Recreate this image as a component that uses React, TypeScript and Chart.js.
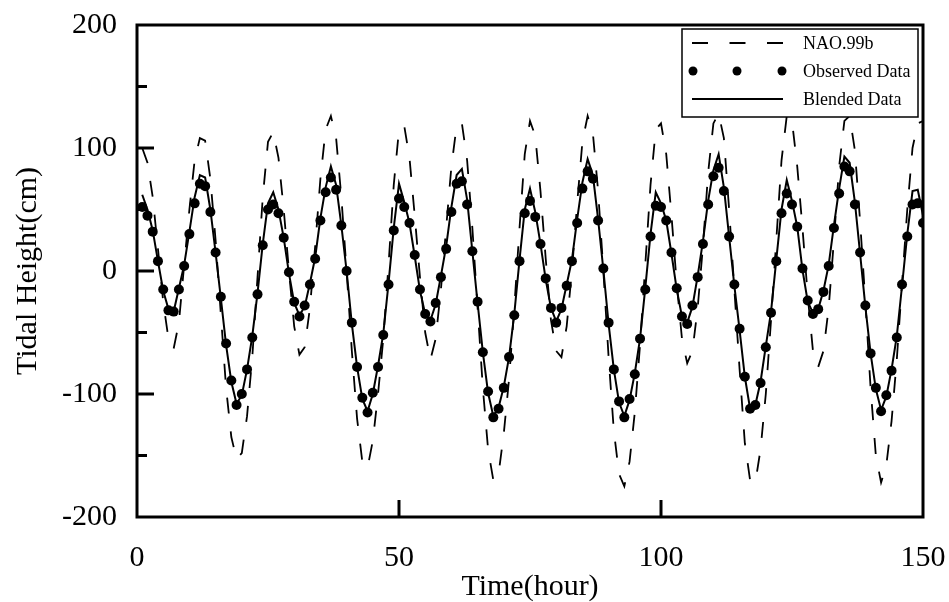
import React, { useEffect, useRef } from "react";
import { Chart, registerables } from "chart.js";

Chart.register(...registerables);

const HOURS: number[] = Array.from({ length: 150 }, (_, i) => i + 1);

const NAO_99B: number[] = [
  100, 88, 60, 18, -25, -55, -63, -42, 5, 50,
  90, 108, 106, 75, 25, -35, -95, -135, -153, -148,
  -118, -70, -5, 60, 105, 113, 92, 50, 0, -45,
  -68, -62, -30, 20, 75, 115, 126, 108, 60, 0,
  -65, -120, -155, -160, -138, -100, -55, 5, 70, 115,
  118, 92, 45, -5, -50, -72, -55, -15, 35, 85,
  118, 120, 90, 35, -30, -95, -145, -170, -165, -132,
  -88, -30, 35, 95, 122, 110, 65, 10, -40, -65,
  -70, -45, 0, 55, 105, 126, 112, 65, 0, -70,
  -130, -165, -175, -155, -115, -60, 5, 70, 115, 120,
  95, 45, -10, -55, -75, -65, -30, 20, 80, 120,
  128, 108, 50, -15, -80, -140, -170, -172, -145, -100,
  -40, 25, 90, 126, 122, 85, 35, -20, -65, -78,
  -65, -30, 25, 85, 122, 126, 98, 40, -25, -95,
  -150, -172, -158, -122, -72, -10, 50, 100, 120, 122,
];

const OBSERVED: number[] = [
  52, 45, 32, 8, -15, -32, -33, -15, 4, 30,
  55, 71, 69, 48, 15, -21, -59, -89, -109, -100,
  -80, -54, -19, 21, 50, 54, 47, 27, -1, -25,
  -37, -28, -11, 10, 41, 64, 76, 66, 37, 0,
  -42, -78, -103, -115, -99, -78, -52, -11, 33, 59,
  52, 39, 13, -15, -35, -41, -26, -5, 18, 48,
  71, 73, 54, 16, -25, -66, -98, -119, -112, -95,
  -70, -36, 8, 47, 57, 44, 22, -6, -30, -42,
  -30, -12, 8, 39, 67, 81, 75, 41, 2, -42,
  -80, -106, -119, -104, -84, -55, -15, 28, 53, 52,
  41, 15, -14, -37, -43, -28, -5, 22, 54, 77,
  84, 65, 28, -11, -47, -86, -112, -109, -91, -62,
  -34, 8, 47, 63, 54, 36, 2, -24, -35, -31,
  -17, 4, 35, 63, 85, 81, 54, 15, -28, -67,
  -95, -114, -101, -81, -54, -11, 28, 54, 55, 39,
];

const BLENDED: number[] = [
  62, 50, 33, 8, -16, -31, -33, -14, 5, 32,
  60, 78, 76, 50, 15, -22, -60, -90, -108, -101,
  -80, -53, -18, 22, 55, 64, 50, 27, -2, -26,
  -36, -29, -10, 11, 43, 68, 85, 70, 37, 0,
  -43, -78, -104, -114, -100, -77, -51, -10, 35, 71,
  56, 39, 12, -16, -35, -40, -27, -4, 20, 52,
  78, 83, 58, 16, -26, -66, -99, -118, -111, -94,
  -70, -35, 9, 50, 67, 48, 22, -7, -30, -41,
  -31, -11, 9, 42, 72, 91, 78, 42, 1, -43,
  -80, -107, -118, -105, -83, -55, -14, 30, 64, 55,
  41, 14, -15, -37, -42, -29, -4, 24, 57, 82,
  95, 68, 28, -12, -48, -86, -112, -109, -90, -61,
  -33, 9, 50, 74, 57, 36, 1, -25, -34, -31,
  -16, 5, 37, 67, 93, 88, 56, 14, -29, -67,
  -96, -113, -102, -80, -53, -12, 30, 65, 66, 45,
];

const X_TICKS: number[] = [0, 50, 100, 150];
const Y_TICKS: number[] = [-200, -150, -100, -50, 0, 50, 100, 150, 200];

const LEGEND_LABELS: string[] = ["NAO.99b", "Observed Data", "Blended Data"];

const SERIF = "'Liberation Serif', 'Times New Roman', Times, serif";

const framePlugin = {
  id: "frameAndTicks",
  afterDraw(chart: any) {
    const { ctx, chartArea, scales } = chart;
    const { left, right, top, bottom } = chartArea;
    ctx.save();
    ctx.strokeStyle = "#000";
    ctx.lineWidth = 3;
    ctx.setLineDash([]);
    ctx.strokeRect(left, top, right - left, bottom - top);
    Y_TICKS.forEach((v) => {
      if (v === 200 || v === -200) return;
      const y = scales.y.getPixelForValue(v);
      const len = v % 100 === 0 ? 17 : 10;
      ctx.beginPath();
      ctx.moveTo(left, y);
      ctx.lineTo(left + len, y);
      ctx.stroke();
    });
    X_TICKS.forEach((v) => {
      if (v === 0 || v === 150) return;
      const x = scales.x.getPixelForValue(v);
      ctx.beginPath();
      ctx.moveTo(x, bottom);
      ctx.lineTo(x, bottom - 17);
      ctx.stroke();
    });

    // legend box
    const bx = 682, by = 29, bw = 236, bh = 88;
    ctx.fillStyle = "#fff";
    ctx.fillRect(bx, by, bw, bh);
    ctx.lineWidth = 1.5;
    ctx.strokeRect(bx, by, bw, bh);

    const rows = [43, 71, 99];
    const sx0 = 692, sx1 = 783;
    ctx.lineWidth = 2;
    ctx.setLineDash([16, 21.5]);
    ctx.beginPath();
    ctx.moveTo(sx0, rows[0]);
    ctx.lineTo(sx1, rows[0]);
    ctx.stroke();
    ctx.setLineDash([]);
    ctx.fillStyle = "#000";
    [693, 737, 782].forEach((x) => {
      ctx.beginPath();
      ctx.arc(x, rows[1], 4.5, 0, Math.PI * 2);
      ctx.fill();
    });
    ctx.beginPath();
    ctx.moveTo(sx0, rows[2]);
    ctx.lineTo(sx1, rows[2]);
    ctx.stroke();

    ctx.font = `18px ${SERIF}`;
    ctx.textAlign = "left";
    ctx.textBaseline = "middle";
    LEGEND_LABELS.forEach((t, i) => {
      ctx.fillText(t, 803, rows[i] + 1);
    });
    ctx.restore();
  },
};

const zeroPad = (s: any) => {
  s.paddingTop = 0;
  s.paddingBottom = 0;
  s.paddingLeft = 0;
  s.paddingRight = 0;
};

export default function App() {
  const canvasRef = useRef<HTMLCanvasElement | null>(null);

  useEffect(() => {
    if (!canvasRef.current) return;
    const chart = new Chart(canvasRef.current, {
      type: "line",
      data: {
        datasets: [
          {
            label: LEGEND_LABELS[0],
            data: HOURS.map((h, i) => ({ x: h, y: NAO_99B[i] })),
            borderColor: "#000",
            borderWidth: 1.8,
            borderDash: [16, 18],
            pointRadius: 0,
            fill: false,
            tension: 0,
          },
          {
            label: LEGEND_LABELS[1],
            data: HOURS.map((h, i) => ({ x: h, y: OBSERVED[i] })),
            showLine: false,
            borderColor: "#000",
            backgroundColor: "#000",
            pointRadius: 5,
            pointBorderWidth: 0,
            pointBackgroundColor: "#000",
          },
          {
            label: LEGEND_LABELS[2],
            data: HOURS.map((h, i) => ({ x: h, y: BLENDED[i] })),
            borderColor: "#000",
            borderWidth: 2,
            pointRadius: 0,
            fill: false,
            tension: 0,
          },
        ],
      },
      options: {
        animation: false,
        responsive: false,
        maintainAspectRatio: false,
        devicePixelRatio: 1,
        layout: { padding: { left: 0, right: 26, top: 25, bottom: 0 } },
        plugins: {
          legend: { display: false },
          tooltip: { enabled: false },
        },
        scales: {
          x: {
            type: "linear",
            min: 0,
            max: 150,
            afterFit: (s: any) => {
              s.height = 85;
              zeroPad(s);
            },
            afterBuildTicks: (s: any) => {
              s.ticks = X_TICKS.map((v) => ({ value: v }));
            },
            ticks: {
              color: "#000",
              font: { family: SERIF, size: 30 },
              padding: 23,
              maxRotation: 0,
              autoSkip: false,
            },
            grid: { display: false, drawTicks: false },
            border: { display: false },
            title: {
              display: true,
              text: "Time(hour)",
              color: "#000",
              font: { family: SERIF, size: 30 },
              padding: { top: 0, bottom: -3 },
            },
          },
          y: {
            type: "linear",
            min: -200,
            max: 200,
            afterFit: (s: any) => {
              s.width = 137;
              zeroPad(s);
            },
            afterBuildTicks: (s: any) => {
              s.ticks = Y_TICKS.map((v) => ({ value: v }));
            },
            ticks: {
              color: "#000",
              font: { family: SERIF, size: 30 },
              padding: 20,
              autoSkip: false,
              callback: (v: any) => (Number(v) % 100 === 0 ? String(v) : ""),
            },
            grid: { display: false, drawTicks: false },
            border: { display: false },
            title: {
              display: true,
              text: "Tidal Height(cm)",
              color: "#000",
              font: { family: SERIF, size: 30 },
              padding: { top: 10, bottom: 0 },
            },
          },
        },
      },
      plugins: [framePlugin],
    });
    return () => chart.destroy();
  }, []);

  return (
    <div style={{ position: "fixed", left: 0, top: 0, width: 949, height: 602, background: "#fff" }}>
      <canvas ref={canvasRef} width={949} height={602} style={{ display: "block" }} />
    </div>
  );
}
